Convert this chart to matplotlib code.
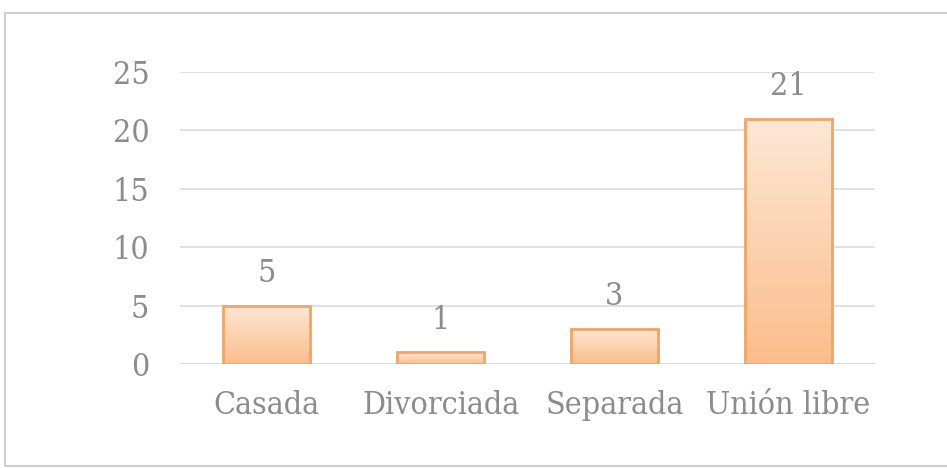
import numpy as np
import matplotlib.pyplot as plt
from matplotlib.patches import Rectangle
from matplotlib.colors import LinearSegmentedColormap
from matplotlib.font_manager import FontProperties

categorias = ['Casada', 'Divorciada', 'Separada', 'Unión libre']
valores = [5, 1, 3, 21]
ticks_y = [0, 5, 10, 15, 20, 25]

gris = '#8c8c8c'
fp = FontProperties(family='DejaVu Serif', stretch='condensed', size=23)

fig = plt.figure(figsize=(9.47, 4.68), dpi=100)
ax = fig.add_axes([0.190, 0.222, 0.734, 0.624])

# marco del gráfico (el borde derecho queda fuera de la imagen)
fig.patches.append(Rectangle((5 / 947, 2 / 468), 950 / 947, 453 / 468,
                             transform=fig.transFigure, fill=False,
                             edgecolor='#cfcfcf', linewidth=1.5))

x = np.arange(len(categorias))
barras = ax.bar(x, valores, width=0.5, color='none', edgecolor='#f2a463',
                linewidth=2, zorder=3)

# relleno degradado de cada barra
cmap = LinearSegmentedColormap.from_list('naranja', ['#fbbd8a', '#fde8d6'])
grad = np.linspace(0, 1, 256).reshape(-1, 1)
for b in barras:
    x0, y0 = b.get_x(), b.get_y()
    w, h = b.get_width(), b.get_height()
    im = ax.imshow(grad, cmap=cmap, origin='lower', aspect='auto',
                   extent=(x0, x0 + w, y0, y0 + h), zorder=2)
    im.set_clip_path(b)

for xi, v in zip(x, valores):
    ax.annotate(str(v), (xi, v), xytext=(0, 12), textcoords='offset points',
                ha='center', va='bottom', color=gris, fontproperties=fp)

ax.set_xlim(-0.5, 3.5)
ax.set_ylim(0, 25)
ax.set_yticks(ticks_y)
ax.set_xticks(x)
ax.set_xticklabels(categorias, color=gris, fontproperties=fp)
ax.set_yticklabels([str(t) for t in ticks_y], color=gris, fontproperties=fp)
ax.tick_params(axis='x', length=0, pad=19)
ax.tick_params(axis='y', length=0, pad=22)
ax.grid(axis='y', color='#dcdcdc', linewidth=1.2, zorder=0)
for s in ax.spines.values():
    s.set_visible(False)
ax.axhline(0, color='#d0d0d0', linewidth=1.2, zorder=1)

fig.savefig('out.png', dpi=100)
